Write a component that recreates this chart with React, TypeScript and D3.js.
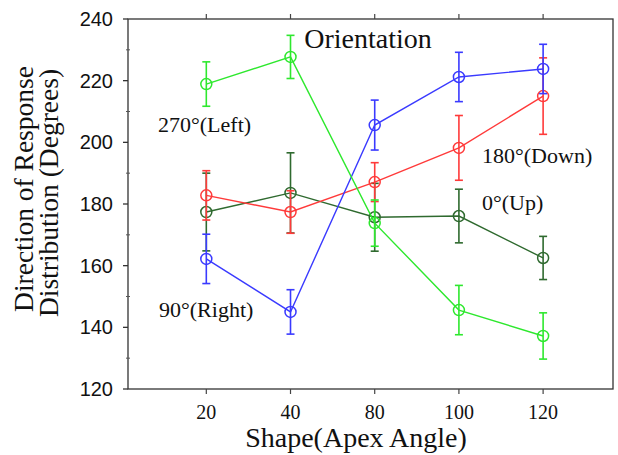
import React from "react";
import * as d3 from "d3";

const categories = ["20", "40", "80", "100", "120"];
const yTicks = [120, 140, 160, 180, 200, 220, 240];

const upMean = [177.4, 183.6, 175.7, 176.1, 162.5];
const upErr = [12.6, 13, 11, 8.7, 7];
const downMean = [182.8, 177.4, 187.1, 198.2, 215];
const downErr = [8, 6.9, 6.3, 10.5, 12.4];
const rightMean = [162.2, 145, 205.6, 221.2, 223.8];
const rightErr = [8, 7.2, 8.1, 8, 8];
const leftMean = [218.9, 227.7, 173.8, 145.6, 137.2];
const leftErr = [7.2, 7, 7.5, 8, 7.5];

const seriesNames = ["0°(Up)", "180°(Down)", "90°(Right)", "270°(Left)"];
const seriesColors = ["#2f6a2f", "#ff3a3a", "#3a3aff", "#2ee82e"];

const W = 618;
const H = 455;
const left = 128;
const right = 613;
const top = 19;
const bottom = 389;

export default function App() {
  const x = d3.scaleLinear().domain([-0.93, 4.83]).range([left, right]);
  const y = d3.scaleLinear().domain([120, 240]).range([bottom, top]);
  const minorTicks = d3.range(130, 240, 20);

  const series = [
    { name: seriesNames[0], mean: upMean, err: upErr, color: seriesColors[0] },
    { name: seriesNames[1], mean: downMean, err: downErr, color: seriesColors[1] },
    { name: seriesNames[2], mean: rightMean, err: rightErr, color: seriesColors[2] },
    { name: seriesNames[3], mean: leftMean, err: leftErr, color: seriesColors[3] },
  ];

  const line = d3
    .line<number>()
    .x((_, i) => x(i))
    .y((d) => y(d));

  const serif = "'Liberation Serif', 'Times New Roman', serif";
  const sans = "'Liberation Sans', Arial, sans-serif";

  return (
    <svg
      width={W}
      height={H}
      style={{ position: "absolute", left: 0, top: 0, background: "#fff" }}
    >
      <rect x={left} y={top} width={right - left} height={bottom - top} fill="#fff" stroke="#333" strokeWidth={1.3} />
      {yTicks.map((t) => (
        <g key={"y" + t}>
          <line x1={left - 5} x2={left} y1={y(t)} y2={y(t)} stroke="#333" strokeWidth={1.3} />
          <text x={113} y={y(t) + 7} textAnchor="end" fontFamily={sans} fontSize={20} fill="#111">
            {t}
          </text>
        </g>
      ))}
      {minorTicks.map((t) => (
        <line key={"m" + t} x1={left - 2} x2={left + 2} y1={y(t)} y2={y(t)} stroke="#555" strokeWidth={1} />
      ))}
      {categories.map((c, i) => (
        <g key={"x" + c}>
          <line x1={x(i)} x2={x(i)} y1={bottom} y2={bottom + 5} stroke="#444" strokeWidth={1.2} />
          <line x1={x(i)} x2={x(i)} y1={top} y2={top - 5} stroke="#444" strokeWidth={1.2} />
          <text x={x(i)} y={419} textAnchor="middle" fontFamily={serif} fontSize={20} fill="#111">
            {c}
          </text>
        </g>
      ))}
      <text x={356} y={447} textAnchor="middle" fontFamily={serif} fontSize={28} fill="#111">
        Shape(Apex Angle)
      </text>
      <text transform="translate(33,189) rotate(-90)" textAnchor="middle" fontFamily={serif} fontSize={27.5} fill="#111">
        Direction of Response
      </text>
      <text transform="translate(58,193) rotate(-90)" textAnchor="middle" fontFamily={serif} fontSize={27.5} fill="#111">
        Distribution (Degrees)
      </text>
      <text x={368} y={48} textAnchor="middle" fontFamily={serif} fontSize={28} fill="#111">
        Orientation
      </text>

      {series.map((s) => (
        <g key={s.name}>
          <path d={line(s.mean) || ""} fill="none" stroke={s.color} strokeWidth={1.4} />
          {s.mean.map((m, i) => (
            <g key={i}>
              <line x1={x(i)} x2={x(i)} y1={y(m - s.err[i])} y2={y(m + s.err[i])} stroke={s.color} strokeWidth={1.6} />
              <line x1={x(i) - 4} x2={x(i) + 4} y1={y(m - s.err[i])} y2={y(m - s.err[i])} stroke={s.color} strokeWidth={1.6} />
              <line x1={x(i) - 4} x2={x(i) + 4} y1={y(m + s.err[i])} y2={y(m + s.err[i])} stroke={s.color} strokeWidth={1.6} />
              <circle cx={x(i)} cy={y(m)} r={5.5} fill="none" stroke={s.color} strokeWidth={1.5} />
            </g>
          ))}
        </g>
      ))}

      <text x={158} y={132} fontFamily={serif} fontSize={22} fill="#111">
        {seriesNames[3]}
      </text>
      <text x={159} y={317} fontFamily={serif} fontSize={22} fill="#111">
        {seriesNames[2]}
      </text>
      <text x={482} y={163} fontFamily={serif} fontSize={22} fill="#111">
        {seriesNames[1]}
      </text>
      <text x={482} y={210} fontFamily={serif} fontSize={22} fill="#111">
        {seriesNames[0]}
      </text>
    </svg>
  );
}
